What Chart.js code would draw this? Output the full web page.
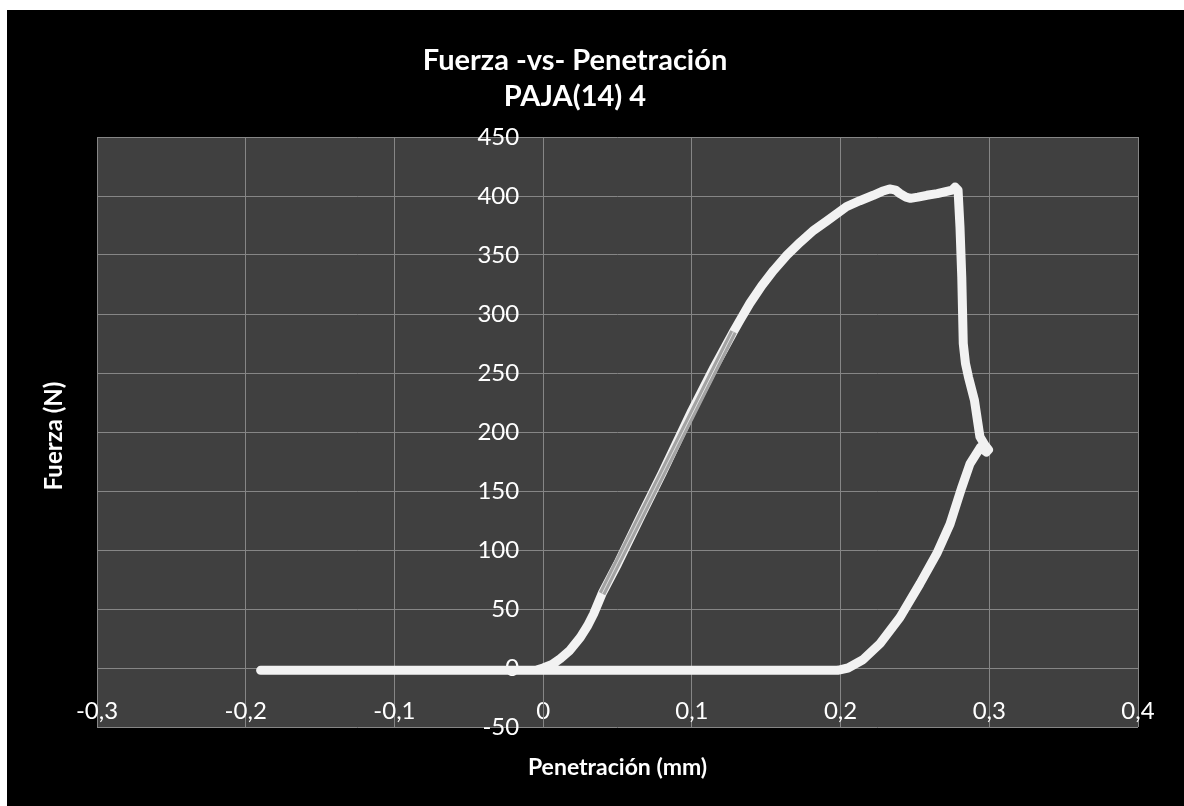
<!DOCTYPE html>
<html><head><meta charset="utf-8">
<script src="https://cdn.jsdelivr.net/npm/chart.js@4"></script>
<style>
html,body{margin:0;padding:0;background:#fff;width:1184px;height:806px;overflow:hidden}
#bg{position:absolute;left:7px;top:10px;width:1177px;height:796px;background:#000}
#wrap{position:absolute;left:0;top:0;width:1184px;height:806px}
</style></head><body>
<div id="bg"></div>
<div id="wrap"><canvas id="c" width="1184" height="806"></canvas></div>
<script>
// Penetración (mm) and Fuerza (N)
const penetracion = [-0.19,-0.1,-0.005,0.0,0.006,0.0116,0.018,0.025,0.03,0.034,0.0396,0.05,0.0654,0.08,0.1,0.115,0.128,0.1325,0.139,0.147,0.155,0.164,0.173,0.182,0.191,0.204,0.213,0.222,0.228,0.233,0.237,0.240,0.244,0.247,0.252,0.258,0.265,0.2714,0.275,0.277,0.279,0.2803,0.2815,0.2825,0.284,0.286,0.290,0.2937,0.297,0.2995,0.298,0.294,0.287,0.2815,0.2736,0.2647,0.2534,0.240,0.2266,0.215,0.205,0.198,0.1,0.0,-0.19];
const fuerza = [-2,-2,-2,0,3,8,15,26,36,46,63,88,128,165,218,255,285,295,309,324,337,350,361,371,379,391,396,400.6,404,406,405,402,399,398,399,400.6,402,404,405,407.6,405,373.7,331,275,258,246.6,227,196,189,185,183,187,173,153,122,97,71.5,43,20.7,7,0,-2,-2,-2,-2];
// Linear fit segment (grey) over the elastic part
const ajusteX = [0.0396, 0.128];
const ajusteY = [63, 285];
// Axis ticks
const xMin = -0.3, xMax = 0.4, xStep = 0.1;
const yMin = -50, yMax = 450, yStep = 50;
const titulo = ['Fuerza -vs- Penetración', 'PAJA(14) 4'];
const tituloX = 'Penetración (mm)';
const tituloY = 'Fuerza (N)';

const pts = (xs, ys) => xs.map((x, i) => ({x, y: ys[i]}));
const FONT = 'Lato';
const GRID = '#868686';

const plotBg = {
  id: 'plotBg',
  beforeDraw(chart) {
    const {ctx, chartArea: a} = chart;
    ctx.save(); ctx.fillStyle = '#404040';
    ctx.fillRect(a.left, a.top, a.right - a.left, a.bottom - a.top);
    ctx.restore();
    // keep the y tick labels a gap to the left of the x = 0 axis line
    const items = chart.scales.y.getLabelItems();
    if (!items._shifted) {
      items.forEach(it => { it.options.translation[0] -= 24; });
      items._shifted = true;
    }
  }
};
const textos = {
  id: 'textos',
  afterDraw(chart) {
    const {ctx, chartArea: a} = chart;
    ctx.save();
    ctx.fillStyle = '#ffffff';
    ctx.textAlign = 'center'; ctx.textBaseline = 'middle';
    ctx.font = 'bold 29px ' + FONT;
    ctx.fillText(titulo[0], 575, 61);
    ctx.fillText(titulo[1], 575, 97);
    ctx.font = 'bold 23px ' + FONT;
    ctx.fillText(tituloX, (a.left + a.right) / 2, 768);
    ctx.translate(54, 436);
    ctx.rotate(-Math.PI / 2);
    ctx.font = 'bold 24px ' + FONT;
    ctx.fillText(tituloY, 0, 0);
    ctx.restore();
  }
};

const fmtX = v => { const r = Math.round(v * 10) / 10; return r === 0 ? '0' : r.toFixed(1).replace('.', ','); };

new Chart(document.getElementById('c'), {
  type: 'scatter',
  data: {
    datasets: [
      {data: pts(penetracion, fuerza), showLine: true, borderColor: '#f2f2f2', borderWidth: 9,
       borderCapStyle: 'round', borderJoinStyle: 'round', pointRadius: 0, order: 3},
      {data: pts(ajusteX, ajusteY), showLine: true, borderColor: '#a3a3a3', borderWidth: 7,
       borderCapStyle: 'butt', pointRadius: 0, order: 2},
      {data: pts(ajusteX, ajusteY), showLine: true, borderColor: '#dedede', borderWidth: 1,
       pointRadius: 0, order: 1}
    ]
  },
  options: {
    responsive: false, animation: false, devicePixelRatio: 1,
    layout: {padding: {left: 97, right: 46, top: 137, bottom: 79}},
    plugins: {
      legend: {display: false}, tooltip: {enabled: false}, title: {display: false}
    },
    scales: {
      x: {type: 'linear', min: xMin, max: xMax, position: {y: 0},
        ticks: {stepSize: xStep, color: '#ffffff', font: {family: FONT, size: 24}, padding: 29, callback: fmtX, maxRotation: 0},
        grid: {color: GRID, lineWidth: 1, drawTicks: false},
        border: {color: GRID, width: 1}},
      y: {type: 'linear', min: yMin, max: yMax, position: {x: 0},
        ticks: {stepSize: yStep, color: '#ffffff', font: {family: FONT, size: 24}},
        grid: {color: GRID, lineWidth: 1, drawTicks: false},
        border: {color: GRID, width: 1}}
    }
  },
  plugins: [plotBg, textos]
});
</script>
</body></html>
